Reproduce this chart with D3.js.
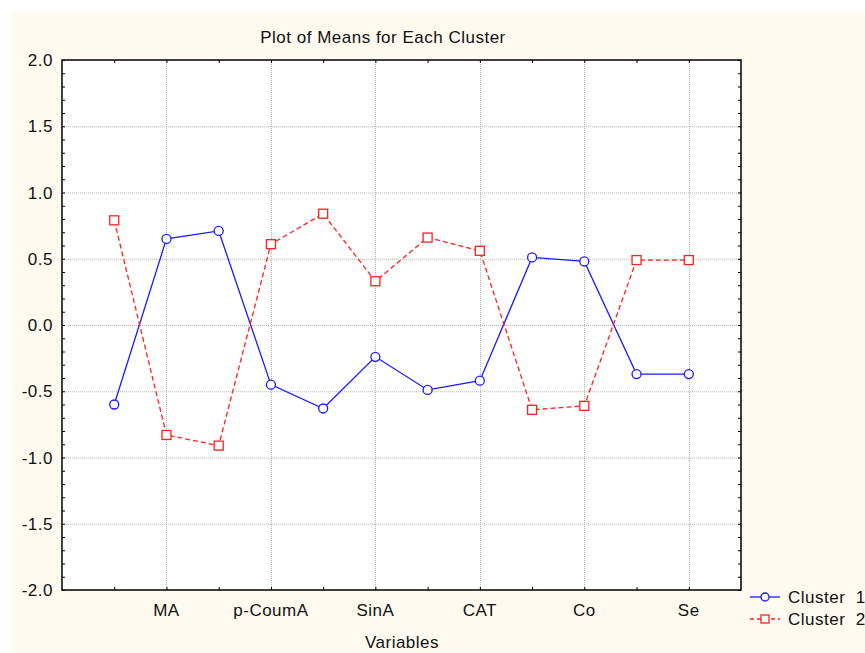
<!DOCTYPE html>
<html>
<head>
<meta charset="utf-8">
<script src="https://cdn.jsdelivr.net/npm/d3@7"></script>
<style>
  body { margin: 0; background: #fff; }
  svg text { font-family: Arial, "Liberation Sans", sans-serif; fill: #111; font-size: 17px; letter-spacing: 0.5px; }
</style>
</head>
<body>
<svg id="chart" width="865" height="653"></svg>
<script>
'use strict';

// data
const variables = ["", "MA", "", "p-CoumA", "", "SinA", "", "CAT", "", "Co", "", "Se"];
const cluster1 = [-0.60, 0.65, 0.71, -0.45, -0.63, -0.24, -0.49, -0.42, 0.51, 0.48, -0.37, -0.37];
const cluster2 = [0.79, -0.83, -0.91, 0.61, 0.84, 0.33, 0.66, 0.56, -0.64, -0.61, 0.49, 0.49];
const yTicks = [-2.0, -1.5, -1.0, -0.5, 0.0, 0.5, 1.0, 1.5, 2.0];
const seriesNames = ["Cluster  1", "Cluster  2"];

const svg = d3.select("#chart");

// cream panel
svg.append("rect")
    .attr("x", 12).attr("y", 12)
    .attr("width", 853).attr("height", 641)
    .attr("fill", "#fefaf0");

const margin = { top: 60, left: 62, right: 741, bottom: 590 };
const idx = d3.range(variables.length);

const xScale = d3.scalePoint().domain(idx).range([margin.left, margin.right]).padding(1);
const yScale = d3.scaleLinear().domain([-2, 2]).range([margin.bottom, margin.top]);

// plot area
svg.append("rect")
    .attr("x", margin.left).attr("y", margin.top)
    .attr("width", margin.right - margin.left).attr("height", margin.bottom - margin.top)
    .attr("fill", "#fff");

// grid
const grid = svg.append("g").attr("stroke", "#b4b4b4").attr("stroke-width", 1).attr("stroke-dasharray", "1,1");
grid.selectAll(".hg").data(yTicks.slice(1, -1)).enter().append("line")
    .attr("x1", margin.left).attr("x2", margin.right)
    .attr("y1", d => yScale(d) + 0.5).attr("y2", d => yScale(d) + 0.5);
grid.selectAll(".vg").data(idx.filter(i => variables[i] !== "")).enter().append("line")
    .attr("y1", margin.top).attr("y2", margin.bottom)
    .attr("x1", d => Math.round(xScale(d)) + 0.5).attr("x2", d => Math.round(xScale(d)) + 0.5);

// axes (ticks inside)
const yLeft = d3.axisRight(yScale).ticks(40).tickSize(3).tickFormat("");
const yRight = d3.axisLeft(yScale).ticks(40).tickSize(3).tickFormat("");
const xBottom = d3.axisTop(xScale).tickSize(3).tickFormat("");
const xTop = d3.axisBottom(xScale).tickSize(3).tickFormat("");

function styleAxis(g) {
    g.select(".domain").remove();
    g.selectAll(".tick line").attr("stroke", "#000");
}
svg.append("g").attr("transform", `translate(${margin.left},0)`).call(yLeft).call(styleAxis);
svg.append("g").attr("transform", `translate(${margin.right},0)`).call(yRight).call(styleAxis);
svg.append("g").attr("transform", `translate(0,${margin.bottom})`).call(xBottom).call(styleAxis);
svg.append("g").attr("transform", `translate(0,${margin.top})`).call(xTop).call(styleAxis);

// frame
svg.append("rect")
    .attr("x", margin.left).attr("y", margin.top)
    .attr("width", margin.right - margin.left).attr("height", margin.bottom - margin.top)
    .attr("fill", "none").attr("stroke", "#000").attr("stroke-width", 1.5);

// tick labels
svg.selectAll(".ylab").data(yTicks).enter().append("text")
    .attr("x", 53).attr("y", d => yScale(d) + 6)
    .attr("text-anchor", "end")
    .text(d => d.toFixed(1));

svg.selectAll(".xlab").data(idx.filter(i => variables[i] !== "")).enter().append("text")
    .attr("x", d => xScale(d)).attr("y", 616)
    .attr("text-anchor", "middle")
    .text(d => variables[d]);

svg.append("text").attr("x", 402).attr("y", 648).attr("text-anchor", "middle")
    .text("Variables");

svg.append("text").attr("x", 383).attr("y", 43).attr("text-anchor", "middle")
    .text("Plot of Means for Each Cluster");

// lines
const line = d3.line().x((d, i) => xScale(i)).y(d => yScale(d));

svg.append("path").datum(cluster1).attr("d", line)
    .attr("fill", "none").attr("stroke", "#1a1aff").attr("stroke-width", 1.3);
svg.append("path").datum(cluster2).attr("d", line)
    .attr("fill", "none").attr("stroke", "#ff2020").attr("stroke-width", 1.3)
    .attr("stroke-dasharray", "5,3");

svg.selectAll(".p1").data(cluster1).enter().append("circle")
    .attr("cx", (d, i) => xScale(i)).attr("cy", d => yScale(d)).attr("r", 4.5)
    .attr("fill", "#fff").attr("stroke", "#1a1aff").attr("stroke-width", 1.3);
svg.selectAll(".p2").data(cluster2).enter().append("rect")
    .attr("x", (d, i) => xScale(i) - 4.5).attr("y", d => yScale(d) - 4.5)
    .attr("width", 9).attr("height", 9)
    .attr("fill", "#fff").attr("stroke", "#ff2020").attr("stroke-width", 1.3);

// legend
const legend = svg.append("g");
const ly = [597, 619];
legend.append("line").attr("x1", 750).attr("x2", 780).attr("y1", ly[0]).attr("y2", ly[0])
    .attr("stroke", "#1a1aff").attr("stroke-width", 1.3);
legend.append("circle").attr("cx", 765).attr("cy", ly[0]).attr("r", 4)
    .attr("fill", "#fff").attr("stroke", "#1a1aff").attr("stroke-width", 1.3);
legend.append("line").attr("x1", 750).attr("x2", 780).attr("y1", ly[1]).attr("y2", ly[1])
    .attr("stroke", "#ff2020").attr("stroke-width", 1.3).attr("stroke-dasharray", "4,3");
legend.append("rect").attr("x", 761).attr("y", ly[1] - 4).attr("width", 8).attr("height", 8)
    .attr("fill", "#fff").attr("stroke", "#ff2020").attr("stroke-width", 1.3);
legend.selectAll(".lt").data(seriesNames).enter().append("text")
    .attr("x", 788).attr("y", (d, i) => ly[i] + 6)
    .attr("xml:space", "preserve").style("white-space", "pre")
    .text(d => d);
</script>
</body>
</html>
